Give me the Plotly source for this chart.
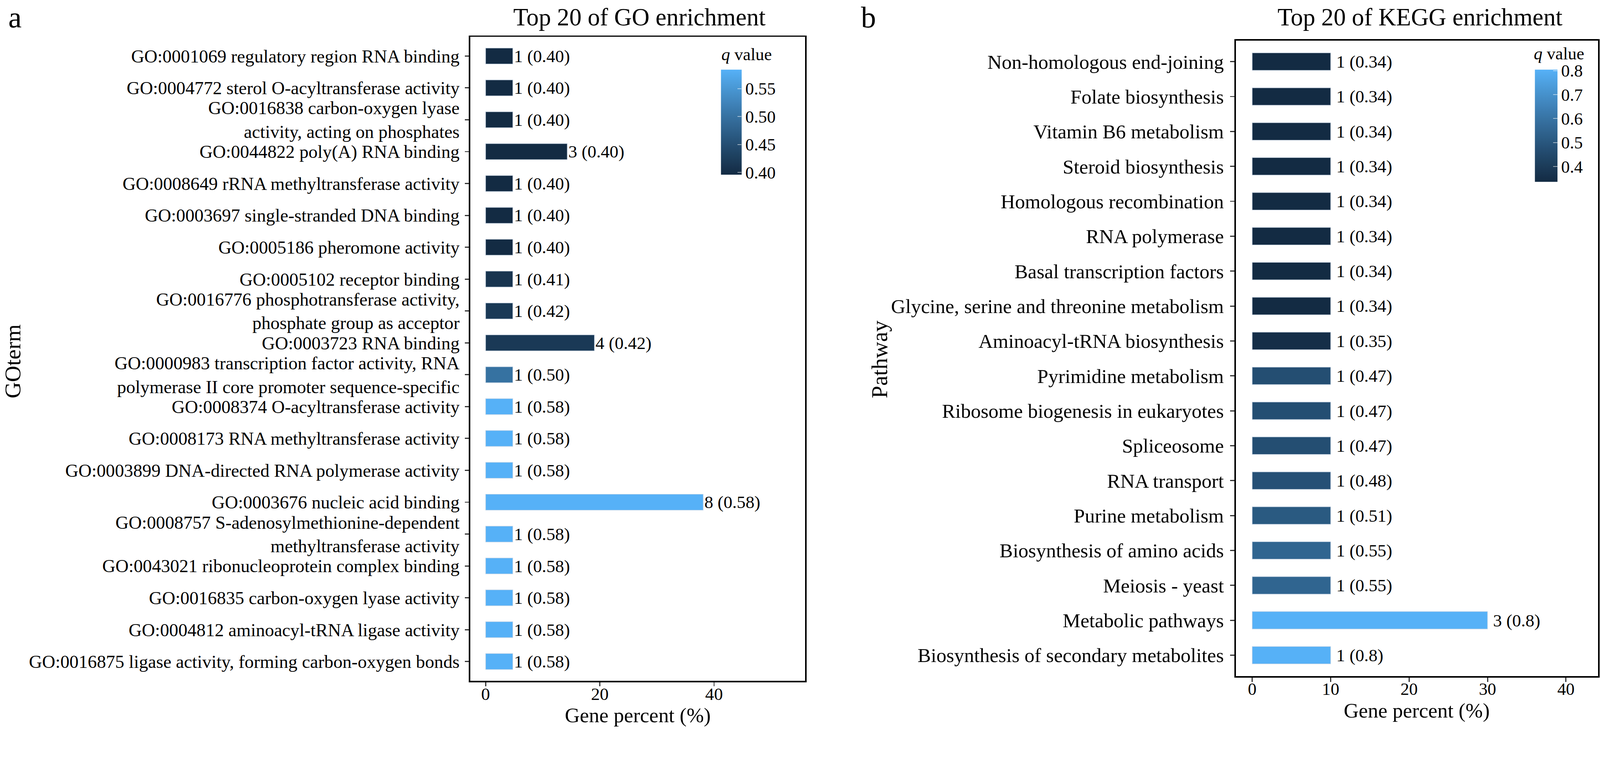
import plotly.graph_objects as go

# ---------------- data ----------------
go_terms = [
    "GO:0001069 regulatory region RNA binding",
    "GO:0004772 sterol O-acyltransferase activity",
    "GO:0016838 carbon-oxygen lyase<br>activity, acting on phosphates",
    "GO:0044822 poly(A) RNA binding",
    "GO:0008649 rRNA methyltransferase activity",
    "GO:0003697 single-stranded DNA binding",
    "GO:0005186 pheromone activity",
    "GO:0005102 receptor binding",
    "GO:0016776 phosphotransferase activity,<br>phosphate group as acceptor",
    "GO:0003723 RNA binding",
    "GO:0000983 transcription factor activity, RNA<br>polymerase II core promoter sequence-specific",
    "GO:0008374 O-acyltransferase activity",
    "GO:0008173 RNA methyltransferase activity",
    "GO:0003899 DNA-directed RNA polymerase activity",
    "GO:0003676 nucleic acid binding",
    "GO:0008757 S-adenosylmethionine-dependent<br>methyltransferase activity",
    "GO:0043021 ribonucleoprotein complex binding",
    "GO:0016835 carbon-oxygen lyase activity",
    "GO:0004812 aminoacyl-tRNA ligase activity",
    "GO:0016875 ligase activity, forming carbon-oxygen bonds",
]
go_count = [1, 1, 1, 3, 1, 1, 1, 1, 1, 4, 1, 1, 1, 1, 8, 1, 1, 1, 1, 1]
go_percent = [4.76, 4.76, 4.76, 14.29, 4.76, 4.76, 4.76, 4.76, 4.76, 19.05,
              4.76, 4.76, 4.76, 4.76, 38.10, 4.76, 4.76, 4.76, 4.76, 4.76]
go_q = [0.396, 0.396, 0.396, 0.396, 0.396, 0.396, 0.396, 0.410, 0.418, 0.418,
        0.500, 0.584, 0.584, 0.584, 0.584, 0.584, 0.584, 0.584, 0.584, 0.584]

kegg_terms = [
    "Non-homologous end-joining",
    "Folate biosynthesis",
    "Vitamin B6 metabolism",
    "Steroid biosynthesis",
    "Homologous recombination",
    "RNA polymerase",
    "Basal transcription factors",
    "Glycine, serine and threonine metabolism",
    "Aminoacyl-tRNA biosynthesis",
    "Pyrimidine metabolism",
    "Ribosome biogenesis in eukaryotes",
    "Spliceosome",
    "RNA transport",
    "Purine metabolism",
    "Biosynthesis of amino acids",
    "Meiosis - yeast",
    "Metabolic pathways",
    "Biosynthesis of secondary metabolites",
]
kegg_count = [1, 1, 1, 1, 1, 1, 1, 1, 1, 1, 1, 1, 1, 1, 1, 1, 3, 1]
kegg_percent = [10, 10, 10, 10, 10, 10, 10, 10, 10, 10, 10, 10, 10, 10, 10, 10, 30, 10]
kegg_q = [0.336, 0.336, 0.336, 0.336, 0.336, 0.336, 0.336, 0.336, 0.35,
          0.47, 0.47, 0.47, 0.48, 0.51, 0.55, 0.55, 0.804, 0.804]

go_cb_ticks = [0.40, 0.45, 0.50, 0.55]
kegg_cb_ticks = [0.4, 0.5, 0.6, 0.7, 0.8]

# ---------------- colour scale (ggplot2 default gradient, Lab interpolation) ----------------
LOW, HIGH = "#132B43", "#56B1F7"
WHITE = (0.95047, 1.0, 1.08883)


def _hex2rgb(h):
    h = h.lstrip("#")
    return [int(h[i:i + 2], 16) / 255 for i in (0, 2, 4)]


def _lin(c):
    return c / 12.92 if c <= 0.04045 else ((c + 0.055) / 1.055) ** 2.4


def _delin(c):
    c = 12.92 * c if c <= 0.0031308 else 1.055 * c ** (1 / 2.4) - 0.055
    return min(max(c, 0), 1)


def _f(t):
    d = 6 / 29
    return t ** (1 / 3) if t > d ** 3 else t / (3 * d * d) + 4 / 29


def _finv(t):
    d = 6 / 29
    return t ** 3 if t > d else 3 * d * d * (t - 4 / 29)


def hex2lab(h):
    r, g, b = [_lin(c) for c in _hex2rgb(h)]
    x = 0.4124 * r + 0.3576 * g + 0.1805 * b
    y = 0.2126 * r + 0.7152 * g + 0.0722 * b
    z = 0.0193 * r + 0.1192 * g + 0.9505 * b
    fx, fy, fz = _f(x / WHITE[0]), _f(y / WHITE[1]), _f(z / WHITE[2])
    return (116 * fy - 16, 500 * (fx - fy), 200 * (fy - fz))


def lab2hex(L, a, b):
    fy = (L + 16) / 116
    fx = fy + a / 500
    fz = fy - b / 200
    x, y, z = WHITE[0] * _finv(fx), WHITE[1] * _finv(fy), WHITE[2] * _finv(fz)
    r = 3.2406 * x - 1.5372 * y - 0.4986 * z
    g = -0.9689 * x + 1.8758 * y + 0.0415 * z
    bb = 0.0557 * x - 0.2040 * y + 1.0570 * z
    return "#%02x%02x%02x" % tuple(round(_delin(c) * 255) for c in (r, g, bb))


lo, hi = hex2lab(LOW), hex2lab(HIGH)
NSTOP = 16
colorscale = []
for i in range(NSTOP + 1):
    t = i / NSTOP
    colorscale.append([t, lab2hex(*[lo[k] + (hi[k] - lo[k]) * t for k in range(3)])])

# ---------------- figure ----------------
FONT = "Liberation Serif"
W, H = 4252, 1937


def px_x(p):
    return p / W


def px_y(p):
    return 1 - p / H


go_text = [f"{c} ({q:.2f})" for c, q in zip(go_count, go_q)]
kegg_text = [f"{c} ({round(q, 2):g})" for c, q in zip(kegg_count, kegg_q)]

fig = go.Figure()
fig.add_trace(go.Bar(
    x=go_percent, y=go_terms, orientation="h", width=0.5,
    marker=dict(color=go_q, coloraxis="coloraxis", line=dict(width=1.5, color="rgba(200,212,228,0.8)")),
    text=go_text, textposition="outside", constraintext="none", cliponaxis=False,
    textfont=dict(family=FONT, size=47, color="black"),
    xaxis="x", yaxis="y", showlegend=False,
))
fig.add_trace(go.Bar(
    x=kegg_percent, y=kegg_terms, orientation="h", width=0.5,
    marker=dict(color=kegg_q, coloraxis="coloraxis2", line=dict(width=1.5, color="rgba(200,212,228,0.8)")),
    text=[" " + t for t in kegg_text], textposition="outside", constraintext="none", cliponaxis=False,
    textfont=dict(family=FONT, size=47, color="black"),
    xaxis="x2", yaxis="y2", showlegend=False,
))

axis_common = dict(showline=True, mirror=True, linecolor="black", linewidth=4,
                   ticks="outside", ticklen=11, tickwidth=3, tickcolor="#333333",
                   showgrid=False, zeroline=False, automargin=False)

cb_common = dict(thicknessmode="pixels", lenmode="pixels", xanchor="left", yanchor="top",
                 xpad=0, ypad=0, outlinewidth=0, ticks="inside", ticklen=11, tickwidth=2,
                 tickcolor="rgba(255,255,255,0.55)",
                 tickfont=dict(family=FONT, size=46, color="black"))

fig.update_layout(
    width=W, height=H, margin=dict(l=0, r=0, t=0, b=0), autosize=False,
    paper_bgcolor="white", plot_bgcolor="white",
    font=dict(family=FONT, color="black"),
    bargap=0.5,
    xaxis=dict(domain=[px_x(1250), px_x(2140)], range=[-2.67, 55.97], tickvals=[0, 20, 40],
               tickfont=dict(family=FONT, size=47), anchor="y", ticklabelstandoff=-20, **axis_common),
    yaxis=dict(domain=[px_y(1808), px_y(98)], range=[19.6, -0.6], type="category",
               tickfont=dict(family=FONT, size=48.5), anchor="x", ticklabelstandoff=4, **axis_common),
    xaxis2=dict(domain=[px_x(3284), px_x(4247)], range=[-2.1, 44.1], tickvals=[0, 10, 20, 30, 40],
                tickfont=dict(family=FONT, size=46), anchor="y2", ticklabelstandoff=-20, **axis_common),
    yaxis2=dict(domain=[px_y(1796), px_y(108)], range=[17.6, -0.6], type="category",
                tickfont=dict(family=FONT, size=53), anchor="x2", ticklabelstandoff=6, **axis_common),
    coloraxis=dict(colorscale=colorscale,
                   colorbar=dict(x=px_x(1916), y=px_y(185), thickness=55, len=279,
                                 tickvals=go_cb_ticks, ticktext=[f"{v:.2f}" for v in go_cb_ticks],
                                 **cb_common)),
    coloraxis2=dict(colorscale=colorscale,
                    colorbar=dict(x=px_x(4079), y=px_y(185), thickness=60, len=298,
                                  tickvals=kegg_cb_ticks, ticktext=[f"{v:g}" for v in kegg_cb_ticks],
                                  **cb_common)),
)

annotations = [
    dict(text="a", x=px_x(20), y=px_y(46), xanchor="left", yanchor="middle", font=dict(size=80)),
    dict(text="b", x=px_x(2286), y=px_y(46), xanchor="left", yanchor="middle", font=dict(size=80)),
    dict(text="Top 20 of GO enrichment", x=px_x(1699), y=px_y(45), xanchor="center", yanchor="middle", font=dict(size=65)),
    dict(text="Top 20 of KEGG enrichment", x=px_x(3773), y=px_y(45), xanchor="center", yanchor="middle", font=dict(size=65)),
    dict(text="Gene percent (%)", x=px_x(1695), y=px_y(1899), xanchor="center", yanchor="middle", font=dict(size=55)),
    dict(text="Gene percent (%)", x=px_x(3765), y=px_y(1887), xanchor="center", yanchor="middle", font=dict(size=55)),
    dict(text="GOterm", x=px_x(34), y=px_y(960), xanchor="center", yanchor="middle", textangle=-90, font=dict(size=60)),
    dict(text="Pathway", x=px_x(2337), y=px_y(955), xanchor="center", yanchor="middle", textangle=-90, font=dict(size=60)),
    dict(text="<i>q</i> value", x=px_x(1915), y=px_y(145), xanchor="left", yanchor="middle", font=dict(size=46)),
    dict(text="<i>q</i> value", x=px_x(4074), y=px_y(142), xanchor="left", yanchor="middle", font=dict(size=46)),
]
for a in annotations:
    a.update(xref="paper", yref="paper", showarrow=False)
    a["font"].update(family=FONT, color="black")
fig.update_layout(annotations=annotations)

# scale the fixed-size figure so that it fits exactly into the browser viewport
fit_js = """
var gd = document.getElementById('{plot_id}');
function fitFigure() {
  var s = Math.min(window.innerWidth / %d, window.innerHeight / %d);
  if (!isFinite(s) || s <= 0.2) { s = 1; }
  document.documentElement.style.margin = '0';
  document.documentElement.style.overflow = 'hidden';
  document.body.style.margin = '0';
  document.body.style.overflow = 'hidden';
  gd.style.transformOrigin = '0 0';
  gd.style.transform = 'scale(' + s + ')';
}
fitFigure();
window.addEventListener('resize', fitFigure);
""" % (W, H)

fig.write_html("out.html", post_script=fit_js, config={"displayModeBar": False})
